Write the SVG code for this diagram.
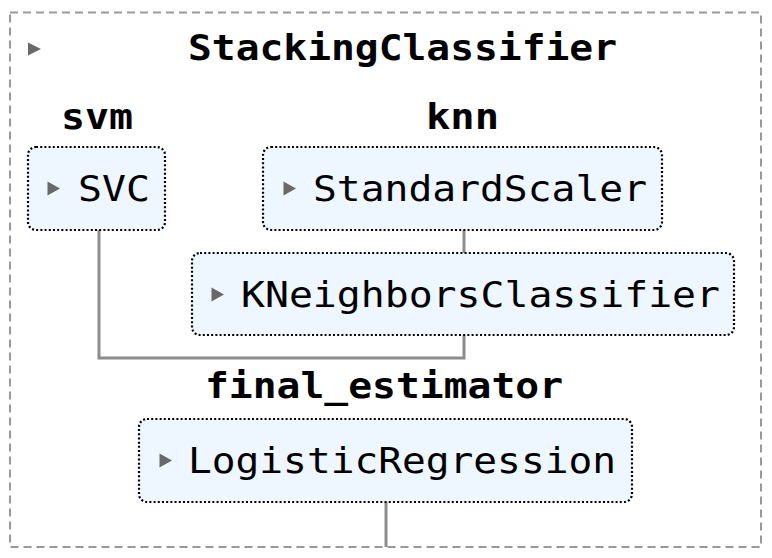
<svg xmlns="http://www.w3.org/2000/svg" width="772" height="558" viewBox="0 0 772 558">
<style>
.lbl{font-family:"DejaVu Sans Mono","Liberation Mono",monospace;font-size:35.5px;fill:#000}
.b{font-weight:bold}
.box{fill:#eef6ff;stroke:#000;stroke-width:2.2;stroke-dasharray:2 2.2}
.tri{fill:#696969}
.con{fill:none;stroke:#8c8c8c;stroke-width:3}
</style>
<rect x="10" y="12.5" width="751" height="534.5" fill="#fff" stroke="#999" stroke-width="2" stroke-dasharray="8 5"/>
<g id="connectors">
<path class="con" d="M99 230 V358 H464 V335"/>
<path class="con" d="M464 230 V253"/>
<path class="con" d="M386 502 V547"/>
</g>
<g id="stacking">
<polygon class="tri" points="28,42.5 41,49 28,55.5"/>
<text class="lbl b" x="188" y="60" textLength="429" lengthAdjust="spacingAndGlyphs">StackingClassifier</text>
</g>
<g id="svm-label"><text class="lbl b" x="61" y="129" textLength="72" lengthAdjust="spacingAndGlyphs">svm</text></g>
<g id="knn-label"><text class="lbl b" x="426" y="129" textLength="73" lengthAdjust="spacingAndGlyphs">knn</text></g>
<g id="svc">
<rect class="box" x="28" y="147" width="137" height="83" rx="8"/>
<polygon class="tri" points="47.5,181.5 60,188.5 47.5,195.5"/>
<text class="lbl" x="78" y="201" textLength="72" lengthAdjust="spacingAndGlyphs">SVC</text>
</g>
<g id="standardscaler">
<rect class="box" x="263" y="147" width="399" height="83" rx="8"/>
<polygon class="tri" points="283.5,181.5 296,188.5 283.5,195.5"/>
<text class="lbl" x="313" y="201" textLength="334" lengthAdjust="spacingAndGlyphs">StandardScaler</text>
</g>
<g id="kneighbors">
<rect class="box" x="192" y="253" width="542" height="82" rx="8"/>
<polygon class="tri" points="211.5,287.5 224,294.5 211.5,301.5"/>
<text class="lbl" x="241" y="307" textLength="479" lengthAdjust="spacingAndGlyphs">KNeighborsClassifier</text>
</g>
<g id="final-label"><text class="lbl b" x="205" y="398" textLength="358" lengthAdjust="spacingAndGlyphs">final_estimator</text></g>
<g id="logreg">
<rect class="box" x="139" y="419" width="493" height="83" rx="8"/>
<polygon class="tri" points="159.5,453.5 172,460.5 159.5,467.5"/>
<text class="lbl" x="188" y="473" textLength="428" lengthAdjust="spacingAndGlyphs">LogisticRegression</text>
</g>
</svg>
